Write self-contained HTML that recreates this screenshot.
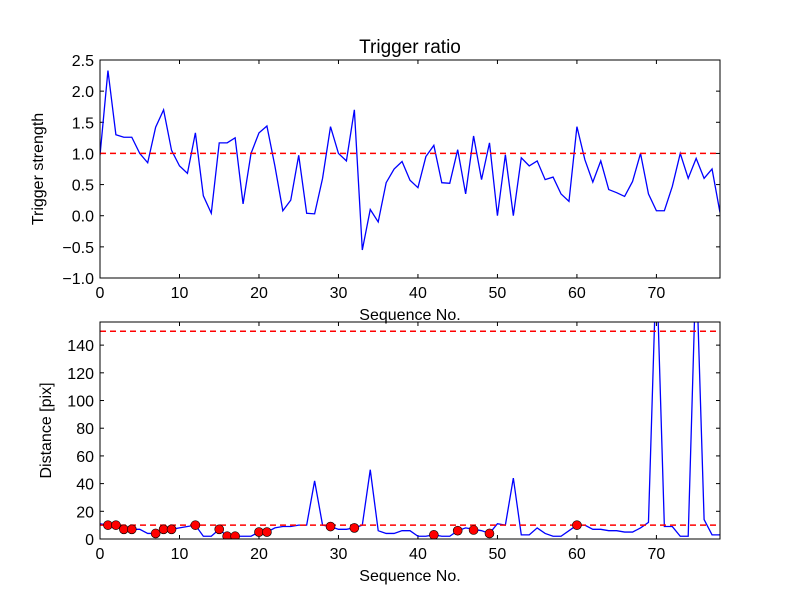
<!DOCTYPE html>
<html><head><meta charset="utf-8"><style>body{margin:0;background:#fff}svg text{font-family:"Liberation Sans","DejaVu Sans",sans-serif;fill:#000}</style></head>
<body>
<svg id="chart" width="800" height="600"></svg>
<script>
const idxs = Array.from({length:79},(_,i)=>i);
const ratio = [0.97,2.33,1.3,1.26,1.26,1.0,0.85,1.42,1.70,1.05,0.8,0.68,1.33,0.32,0.04,1.17,1.17,1.25,0.19,1.0,1.33,1.44,0.8,0.08,0.25,0.97,0.04,0.03,0.6,1.43,1.0,0.88,1.70,-0.55,0.1,-0.1,0.53,0.75,0.87,0.57,0.45,0.95,1.13,0.53,0.52,1.06,0.35,1.28,0.58,1.17,0.0,0.98,0.0,0.93,0.8,0.88,0.58,0.62,0.35,0.23,1.43,0.9,0.54,0.88,0.42,0.37,0.31,0.55,1.0,0.35,0.08,0.08,0.47,1.0,0.6,0.92,0.6,0.75,0.05];
const dist = [11,10,10,7,7,7,4,4,7,7,8,9,10,2,2,7,2,2,2,2,5,5,8,9,9,10,10,42,10,9,7,7,8,10,50,6,4,4,6,6,2,2,3,2,2,6,8,7,6,4,11,10,44,3,3,8,4,2,2,6,10,10,7,7,6,6,5,5,8,12,200,9,9,2,2,200,14,3,3];
const markIdx = [1,2,3,4,7,8,9,12,15,16,17,20,21,29,32,42,45,47,49,60];
const markVal = [10,10,7,7,4,7,7,10,7,2,2,5,5,9,8,3,6,6.5,4,10];
const ratioThr = 1.0, distThr = [10,150];
const xTicks = [0,10,20,30,40,50,60,70];
const yTop = [-1.0,-0.5,0.0,0.5,1.0,1.5,2.0,2.5];
const yBot = [0,20,40,60,80,100,120,140];

const svg=document.getElementById('chart'),NS='http://www.w3.org/2000/svg';
function el(t,a,p){const e=document.createElementNS(NS,t);for(const k in a)e.setAttribute(k,a[k]);(p||svg).appendChild(e);return e;}
const L=100,R=720;
const xs=v=>L+(v-0)/(78-0)*(R-L);
function panel(name,T,B,y0,y1,yt,fmt,ylab,title,ylx){
  const ys=v=>B-(v-y0)/(y1-y0)*(B-T);
  const g=el('g',{});
  el('defs',{},g).innerHTML=`<clipPath id="c${name}"><rect x="${L}" y="${T}" width="${R-L}" height="${B-T}"/></clipPath>`;
  xTicks.forEach(t=>{const x=xs(t);el('line',{x1:x,x2:x,y1:B,y2:B-4,stroke:'#000'},g);el('line',{x1:x,x2:x,y1:T,y2:T+4,stroke:'#000'},g);
    const tx=el('text',{x:x,y:B+20,'text-anchor':'middle','font-size':16},g);tx.textContent=t;});
  yt.forEach(t=>{const y=ys(t);el('line',{x1:L,x2:L+4,y1:y,y2:y,stroke:'#000'},g);el('line',{x1:R,x2:R-4,y1:y,y2:y,stroke:'#000'},g);
    const tx=el('text',{x:L-6,y:y+6,'text-anchor':'end','font-size':16},g);tx.textContent=fmt(t);});
  const xl=el('text',{x:(L+R)/2,y:B+42,'text-anchor':'middle','font-size':16},g);xl.textContent='Sequence No.';
  
  const yl=el('text',{x:0,y:0,'text-anchor':'middle','font-size':16,transform:`translate(${ylx},${(T+B)/2}) rotate(-90)`},g);yl.textContent=ylab;
  
  if(title){const tt=el('text',{x:(L+R)/2,y:T-7,'text-anchor':'middle','font-size':19},g);tt.textContent=title;}
  return {g,ys,clip:`url(#c${name})`};
}
const P1=panel('trigger-panel',60,278,-1,2.5,yTop,v=>v.toFixed(1).replace('-','−'),'Trigger strength','Trigger ratio',43);
const l1=el('polyline',{points:idxs.map(i=>xs(i)+','+P1.ys(ratio[i])).join(' '),fill:'none',stroke:'#00f','stroke-width':1.3,'clip-path':P1.clip},P1.g);

const t1=el('line',{x1:L,x2:R,y1:P1.ys(ratioThr),y2:P1.ys(ratioThr),stroke:'#f00','stroke-width':1.5,'stroke-dasharray':'6,4'},P1.g);

el('rect',{x:L,y:60,width:R-L,height:218,fill:'none',stroke:'#000','stroke-width':1},P1.g);

const P2=panel('distance-panel',322,539,0,156.7,yBot,v=>v,'Distance [pix]',null,51);
const l2=el('polyline',{points:idxs.map(i=>xs(i)+','+P2.ys(dist[i])).join(' '),fill:'none',stroke:'#00f','stroke-width':1.3,'clip-path':P2.clip},P2.g);

distThr.forEach(v=>{const t=el('line',{x1:L,x2:R,y1:P2.ys(v),y2:P2.ys(v),stroke:'#f00','stroke-width':1.5,'stroke-dasharray':'6,4'},P2.g);
  });
const mg=el('g',{'clip-path':P2.clip},P2.g);
markIdx.forEach((k,j)=>{const c=el('circle',{cx:xs(k),cy:P2.ys(markVal[j]),r:4.5,fill:'#f00',stroke:'#000','stroke-width':0.6},mg);
  });
el('rect',{x:L,y:322,width:R-L,height:217,fill:'none',stroke:'#000','stroke-width':1},P2.g);
</script>
</body></html>
